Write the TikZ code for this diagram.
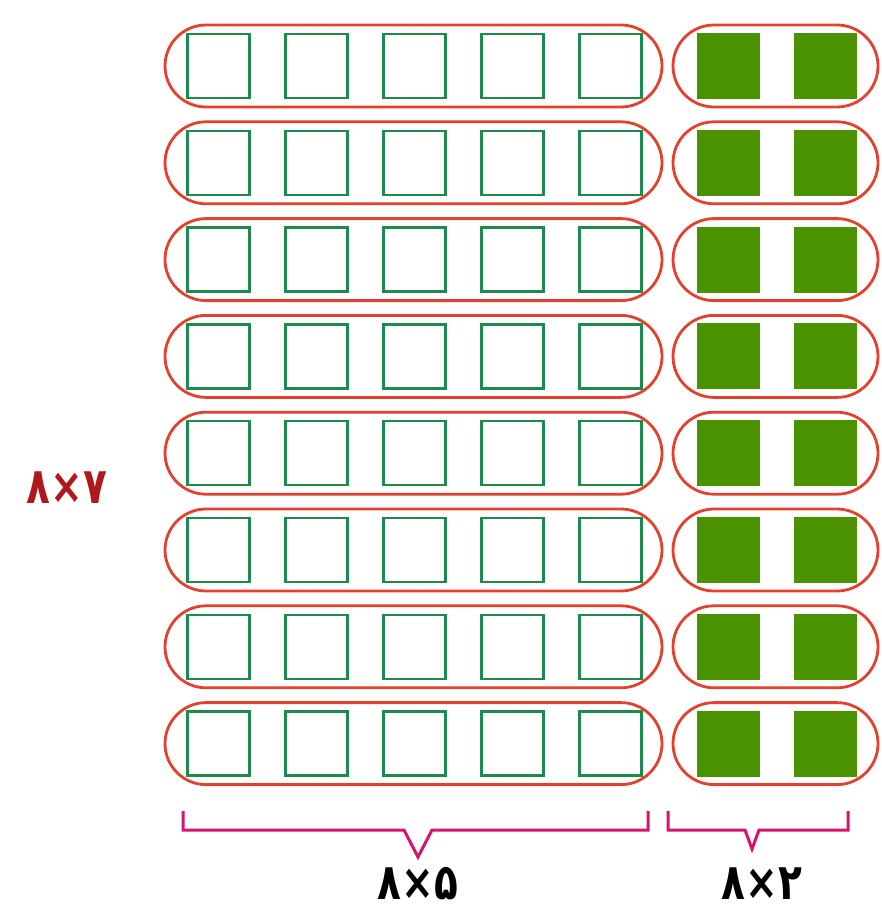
\documentclass[tikz,border=0pt]{standalone}
\usepackage{fontspec}
\newfontfamily\digitfont{DejaVu Sans}
\definecolor{capred}{HTML}{E2412E}
\definecolor{sqgreen}{HTML}{1E8A4E}
\definecolor{fillgreen}{HTML}{4A9200}
\definecolor{bracemag}{HTML}{D4146E}
\definecolor{labred}{HTML}{B0191C}
\tikzset{
  capsule/.style={draw=capred, line width=2.8pt, rounded corners=41pt, minimum height=82pt, inner sep=0pt},
  opensq/.style={draw=sqgreen, line width=2.4pt, minimum width=62pt, minimum height=64pt, inner sep=0pt},
  fullsq/.style={fill=fillgreen, minimum width=63pt, minimum height=66pt, inner sep=0pt},
  bracepath/.style={draw=bracemag, line width=3pt, line join=miter},
  lab/.style={font=\digitfont\bfseries\fontsize{50}{50}\selectfont, inner sep=0pt}
}
\newcommand{\narrowtext}[1]{\scalebox{0.78}[1]{#1}}
\begin{document}
\begin{tikzpicture}[x=1pt,y=-1pt]
\useasboundingbox (0,0) rectangle (882,912);
\foreach \r in {1,...,8}{
  \pgfmathsetmacro{\yc}{66+96.8*(\r-1)}
  \foreach \k in {0,...,4}{
    \node[opensq] (s\r-\k) at ({218.5+98*\k},\yc) {};
  }
  \node[fullsq] (f\r-1) at (728,\yc) {};
  \node[fullsq] (f\r-2) at (825.5,\yc) {};
  \node[capsule, minimum width=497pt] (L\r) at (413.5,\yc) {};
  \node[capsule, minimum width=205pt] (R\r) at (775.5,\yc) {};
}
% braces
\coordinate (a1) at (183,811);
\coordinate (a2) at (648,811);
\coordinate (atip) at (418,857);
\draw[bracepath] (a1) -- (183,830) -- (404,830) -- (atip) -- (432,830) -- (648,830) -- (a2);
\coordinate (b1) at (668,811);
\coordinate (b2) at (848,811);
\coordinate (btip) at (752,849);
\draw[bracepath] (b1) -- (668,830) -- (745,830) -- (btip) -- (759,830) -- (848,830) -- (b2);
\node[lab, text=labred] (t7) at (67,488) {\narrowtext{۸×۷}};
\node[lab] (t5) at (418,884) {\narrowtext{۸×۵}};
\node[lab] (t2) at (762,884) {\narrowtext{۸×۲}};
\end{tikzpicture}
\end{document}
